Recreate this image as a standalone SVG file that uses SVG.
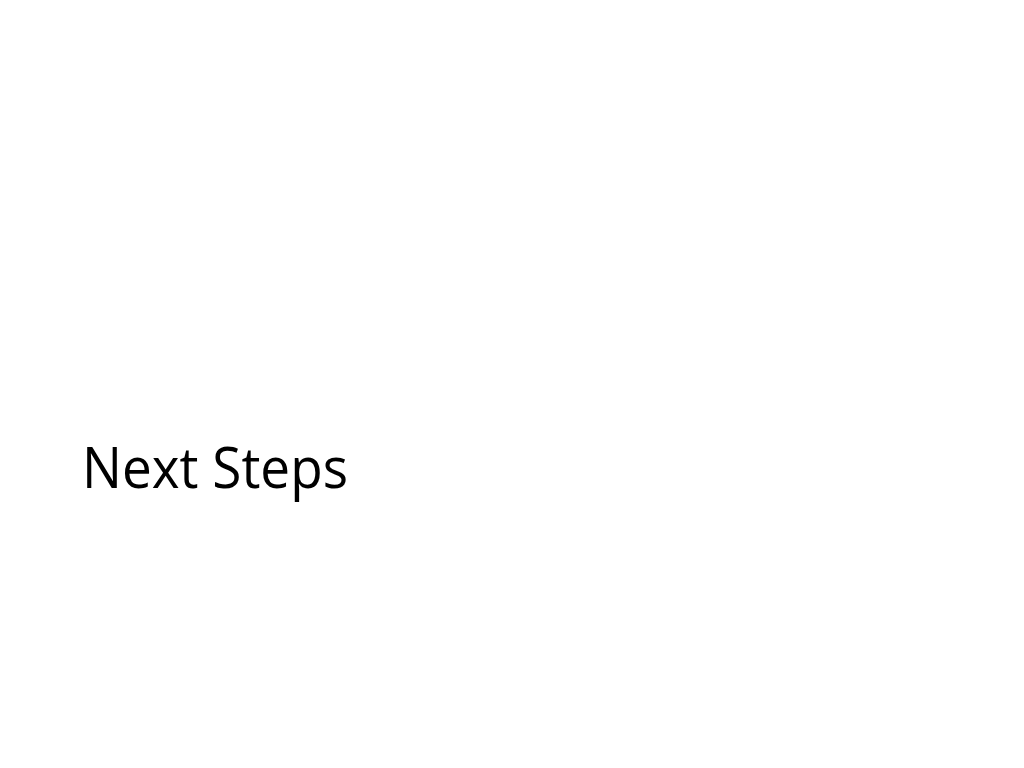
<svg xmlns="http://www.w3.org/2000/svg" width="1024" height="768" viewBox="0 0 1024 768">
<style>
.title{font-family:"Open Sans","Noto Sans","Liberation Sans",sans-serif;font-size:56px;fill:#000;}
</style>
<rect x="0" y="0" width="1024" height="768" fill="#ffffff"/>
<g id="title">
<text class="title" x="82" y="488" textLength="266" lengthAdjust="spacingAndGlyphs">Next Steps</text>
</g>
</svg>
